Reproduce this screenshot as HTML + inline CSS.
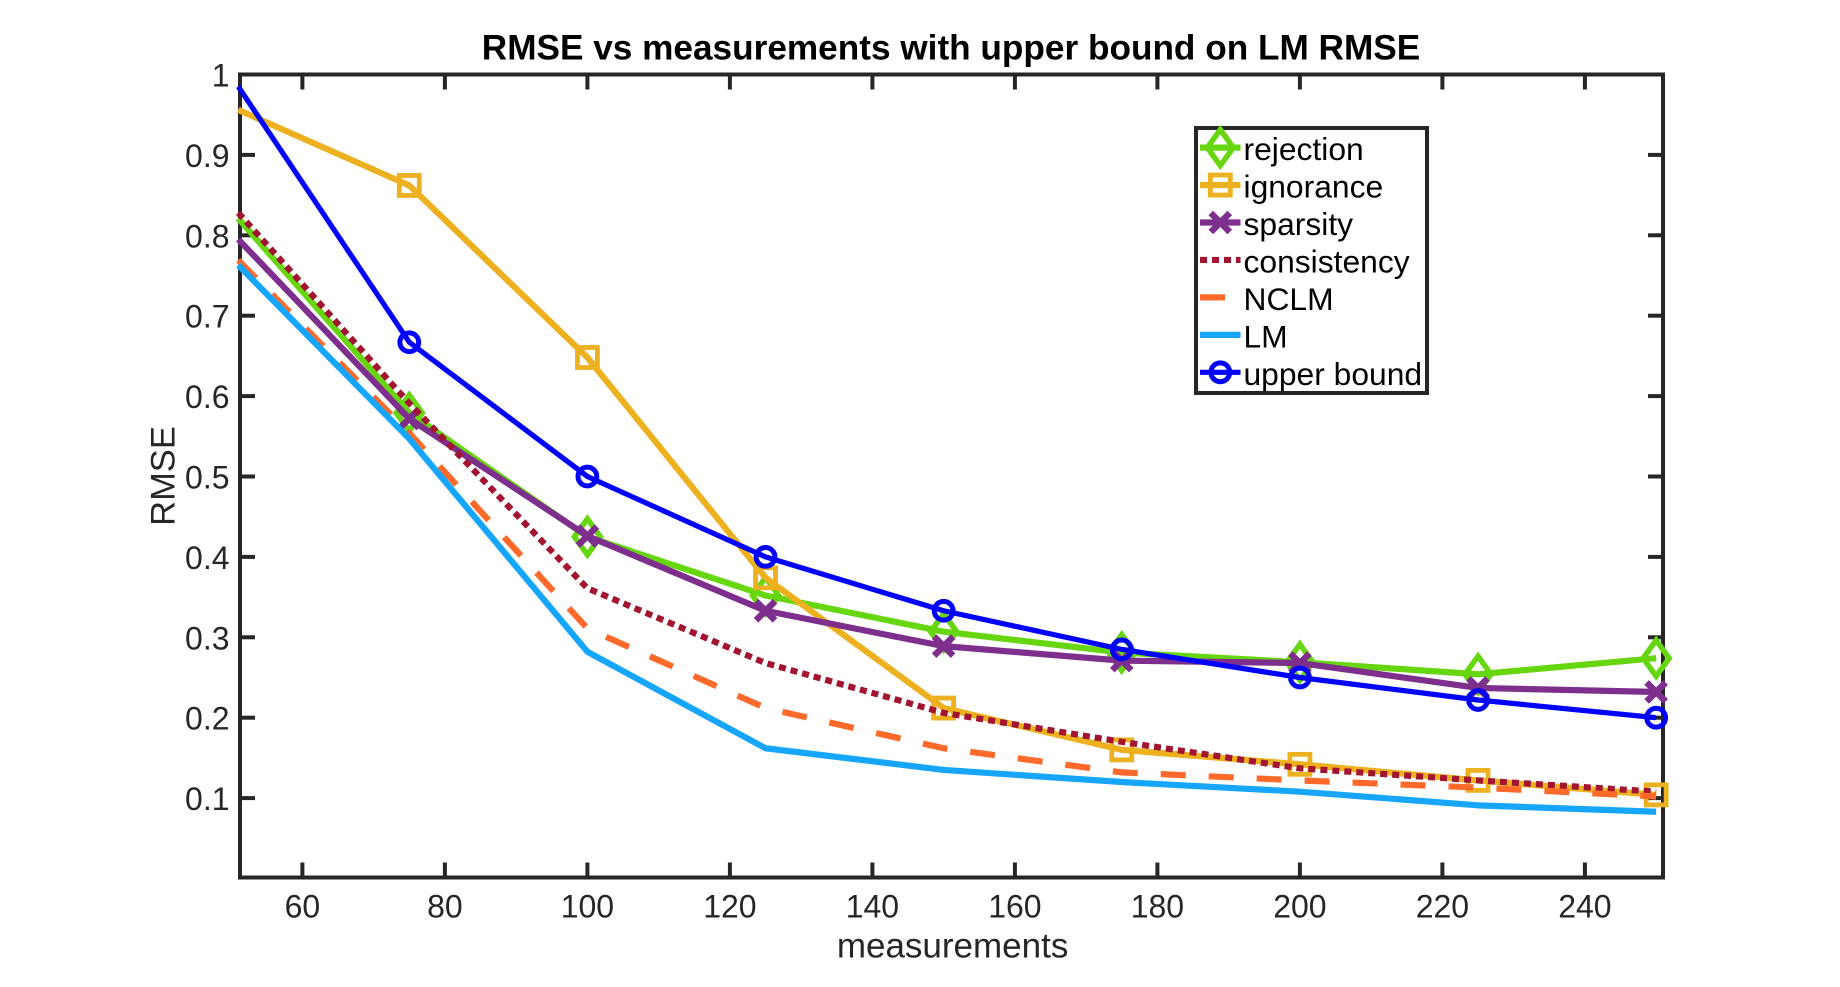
<!DOCTYPE html>
<html>
<head>
<meta charset="utf-8">
<title>RMSE vs measurements</title>
<style>
html,body{margin:0;padding:0;background:#fff;width:1840px;height:987px;overflow:hidden}
svg{display:block;font-family:"Liberation Sans",Arial,sans-serif}
</style>
</head>
<body>
<svg id="chart" width="1840" height="987" viewBox="0 0 1840 987" xmlns="http://www.w3.org/2000/svg">
  <rect x="0" y="0" width="1840" height="987" fill="#fff"/>
  <text x="951" y="59.5" text-anchor="middle" font-size="35.2" font-weight="bold" fill="#000">RMSE vs measurements with upper bound on LM RMSE</text>
  <text x="952.6" y="957.5" text-anchor="middle" font-size="35" fill="#262626">measurements</text>
  <text transform="translate(174.5 476) rotate(-90)" text-anchor="middle" font-size="34.5" fill="#262626">RMSE</text>
  <g id="axes"></g>
  <g id="series"></g>
  <g id="legend"></g>
</svg>
<script>
const measurements = [51, 75, 100, 125, 150, 175, 200, 225, 250];
const rejection   = [0.821, 0.579, 0.425, 0.352, 0.307, 0.281, 0.269, 0.254, 0.274];
const ignorance   = [0.956, 0.862, 0.648, 0.374, 0.212, 0.160, 0.142, 0.122, 0.104];
const sparsity    = [0.795, 0.572, 0.426, 0.333, 0.289, 0.271, 0.268, 0.237, 0.232];
const consistency = [0.828, 0.591, 0.361, 0.268, 0.206, 0.170, 0.137, 0.122, 0.108];
const nclm        = [0.769, 0.554, 0.311, 0.212, 0.162, 0.132, 0.122, 0.113, 0.102];
const lm          = [0.763, 0.547, 0.282, 0.162, 0.135, 0.120, 0.108, 0.091, 0.083];
const upperBound  = [0.985, 0.667, 0.500, 0.400, 0.333, 0.285, 0.250, 0.222, 0.200];
const xTicks = [60, 80, 100, 120, 140, 160, 180, 200, 220, 240];
const yTicks = [0.1, 0.2, 0.3, 0.4, 0.5, 0.6, 0.7, 0.8, 0.9, 1];
const yTickLabels = ['0.1', '0.2', '0.3', '0.4', '0.5', '0.6', '0.7', '0.8', '0.9', '1'];

const NS = 'http://www.w3.org/2000/svg';
const xScale = v => 302.4 + (v - 60) * 7.125;
const yScale = v => 74.5 + (1 - v) * 804;
const plot = {l: 240, r: 1663, t: 74.5, b: 877.5};
const axisColor = '#262626';
const axisWidth = 4;
const tickFont = 32;

function mk(tag, attrs, parent) {
  const el = document.createElementNS(NS, tag);
  for (const k in attrs) el.setAttribute(k, attrs[k]);
  parent.appendChild(el);
  return el;
}

const axes = document.getElementById('axes');
xTicks.forEach(t => {
  const x = xScale(t);
  const b = mk('line', {x1: x, x2: x, y1: plot.b, y2: plot.b - 15, stroke: axisColor, 'stroke-width': axisWidth}, axes);
  
  
  const u = mk('line', {x1: x, x2: x, y1: plot.t, y2: plot.t + 15, stroke: axisColor, 'stroke-width': axisWidth}, axes);
  
  
  const lab = mk('text', {x: x, y: 917.7, 'text-anchor': 'middle', 'font-size': tickFont, fill: axisColor}, axes);
  
  
  lab.textContent = String(t);
});
yTicks.forEach((t, i) => {
  const y = yScale(t);
  const l = mk('line', {x1: plot.l, x2: plot.l + 15, y1: y, y2: y, stroke: axisColor, 'stroke-width': axisWidth}, axes);
  
  
  const r = mk('line', {x1: plot.r, x2: plot.r - 15, y1: y, y2: y, stroke: axisColor, 'stroke-width': axisWidth}, axes);
  
  
  const lab = mk('text', {x: 229.5, y: y + 12, 'text-anchor': 'end', 'font-size': tickFont, fill: axisColor}, axes);
  
  
  lab.textContent = yTickLabels[i];
});
const frame = mk('rect', {x: plot.l, y: plot.t, width: plot.r - plot.l, height: plot.b - plot.t, fill: 'none', stroke: axisColor, 'stroke-width': axisWidth}, axes);



function drawMarker(kind, cx, cy, color, parent) {
  let el = null;
  if (kind === 'diamond') {
    el = mk('polygon', {points: `${cx},${cy - 18} ${cx + 13},${cy} ${cx},${cy + 18} ${cx - 13},${cy}`, fill: 'none', stroke: color, 'stroke-width': 5.5, 'stroke-miterlimit': 10}, parent);
  } else if (kind === 'square') {
    el = mk('rect', {x: cx - 10, y: cy - 10, width: 20, height: 20, fill: 'none', stroke: color, 'stroke-width': 4.8}, parent);
  } else if (kind === 'circle') {
    el = mk('circle', {cx: cx, cy: cy, r: 9.4, fill: 'none', stroke: color, 'stroke-width': 5}, parent);
  } else if (kind === 'x') {
    el = mk('path', {d: `M${cx - 9.5} ${cy - 9.5}L${cx + 9.5} ${cy + 9.5}M${cx - 9.5} ${cy + 9.5}L${cx + 9.5} ${cy - 9.5}`, fill: 'none', stroke: color, 'stroke-width': 6.5}, parent);
  }
  return el;
}

const seriesGroup = document.getElementById('series');
const legendGroup = document.getElementById('legend');

const rejectionColor = '#66d60e', ignoranceColor = '#edb120', sparsityColor = '#7e2f8e',
      consistencyColor = '#a2142f', nclmColor = '#ff6a2b', lmColor = '#16a5ff', upperColor = '#0000ff';
const thick = 6.2, thin = 5.2;

function drawSeries(name, values, color, dash, marker, width) {
  const g = mk('g', {}, seriesGroup);
  
  
  const pts = values.map((v, i) => xScale(measurements[i]).toFixed(2) + ',' + yScale(v).toFixed(2)).join(' ');
  const attrs = {points: pts, fill: 'none', stroke: color, 'stroke-width': width, 'stroke-linejoin': 'round'};
  if (dash) attrs['stroke-dasharray'] = dash;
  const line = mk('polyline', attrs, g);
  
  
  if (marker) {
    values.forEach((v, i) => {
      if (i === 0) return;
      const m = drawMarker(marker, xScale(measurements[i]), yScale(v), color, g);
      
      
    });
  }
}

drawSeries('rejection', rejection, rejectionColor, null, 'diamond', thick);
drawSeries('ignorance', ignorance, ignoranceColor, null, 'square', thick);
drawSeries('sparsity', sparsity, sparsityColor, null, 'x', thick);
drawSeries('consistency', consistency, consistencyColor, '7 5', null, thick);
drawSeries('nclm', nclm, nclmColor, '25 23', null, thick);
drawSeries('lm', lm, lmColor, null, null, thick);
drawSeries('upper-bound', upperBound, upperColor, null, 'circle', thin);

const box = mk('rect', {x: 1196, y: 128, width: 231, height: 265, fill: '#fff', stroke: axisColor, 'stroke-width': axisWidth}, legendGroup);



const legendLabels = ['rejection', 'ignorance', 'sparsity', 'consistency', 'NCLM', 'LM', 'upper bound'];
const legendColors = [rejectionColor, ignoranceColor, sparsityColor, consistencyColor, nclmColor, lmColor, upperColor];
const legendDashes = [null, null, null, '7 5', '25 23', null, null];
const legendMarkers = ['diamond', 'square', 'x', null, null, null, 'circle'];
const legendWidths = [thick, thick, thick, thick, thick, thick, thin];

legendLabels.forEach((name, i) => {
  const y = 147.6 + i * 37.45;
  const g = mk('g', {}, legendGroup);
  
  
  const attrs = {x1: 1200, x2: 1240.5, y1: y, y2: y, stroke: legendColors[i], 'stroke-width': legendWidths[i]};
  if (legendDashes[i]) attrs['stroke-dasharray'] = legendDashes[i];
  const s = mk('line', attrs, g);
  
  
  if (legendMarkers[i]) {
    const m = drawMarker(legendMarkers[i], 1220.3, y, legendColors[i], g);
    
    
  }
  const t = mk('text', {x: 1243.5, y: y + 12.5, 'font-size': 31.8, fill: '#000'}, g);
  
  
  t.textContent = name;
});
</script>
</body>
</html>
